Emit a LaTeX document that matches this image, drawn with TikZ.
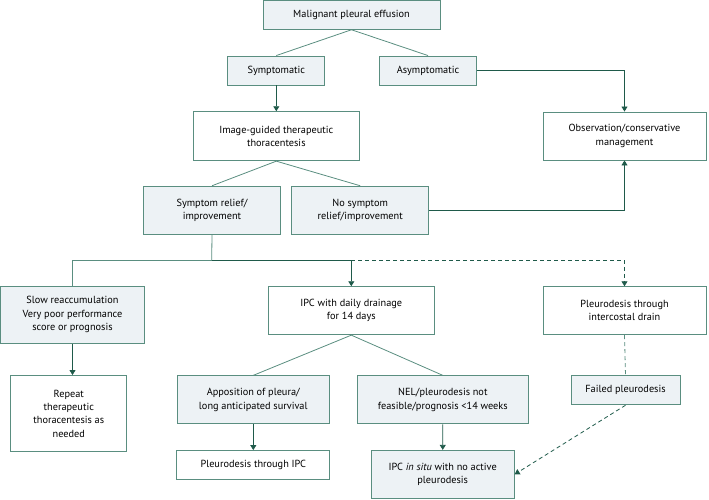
\documentclass[tikz,border=0pt]{standalone}
\usepackage{fontspec}
\setmainfont{PT Sans}
\usetikzlibrary{arrows.meta,positioning}
\definecolor{boxline}{HTML}{5A8E80}
\definecolor{arrline}{HTML}{1F5A4A}
\definecolor{boxfill}{HTML}{EDF2F5}

\begin{document}
\begin{tikzpicture}[x=1pt,y=-1pt,
            box/.style={rectangle, draw=boxline, line width=0.9pt, align=center, inner sep=0pt,
                        font=\fontsize{10.3}{13.3}\selectfont},
            shaded/.style={box, fill=boxfill},
            link/.style={draw=boxline, line width=0.8pt},
            arr/.style={draw=arrline, line width=0.8pt, -{Triangle[length=5pt,width=6pt]}},
            darr/.style={arr, dashed, dash pattern=on 4pt off 3pt}
        ]
        \useasboundingbox (0,0) rectangle (709,499);

        % top of the chart
        \node[shaded, minimum width=177pt, minimum height=29pt] (effusion) at (351.5,14.8) {Malignant pleural effusion};
        \node[shaded, minimum width=97pt, minimum height=29pt] (symptomatic) at (276.3,70.5) {Symptomatic};
        \node[shaded, minimum width=97pt, minimum height=29pt] (asymptomatic) at (428,70.5) {Asymptomatic};
        \node[box, minimum width=166pt, minimum height=49pt] (thoracentesis) at (276.3,136.2) {Image-guided therapeutic\\thoracentesis};
        \node[box, minimum width=163pt, minimum height=48pt] (observation) at (624.5,136) {Observation/conservative\\management};
        \node[shaded, minimum width=137pt, minimum height=48pt] (relief) at (212,210.2) {Symptom relief/\\improvement};
        \node[shaded, minimum width=137pt, minimum height=48pt] (norelief) at (360.2,210.2) {No symptom\\relief/improvement};

        % middle row
        \node[shaded, minimum width=144pt, minimum height=57pt] (slow) at (72.5,314.7) {Slow reaccumulation\\Very poor performance\\score or prognosis};
        \node[box, minimum width=166pt, minimum height=48pt] (ipc) at (351.3,310.7) {IPC with daily drainage\\for 14 days};
        \node[box, minimum width=163pt, minimum height=48pt] (drain) at (624.5,310.7) {Pleurodesis through\\intercostal drain};

        % bottom rows
        \node[box, minimum width=116pt, minimum height=76pt] (repeat) at (68.8,413.5) {Repeat\\therapeutic\\thoracentesis as\\needed};
        \node[shaded, minimum width=152pt, minimum height=48pt] (apposition) at (253.3,399.8) {Apposition of pleura/\\long anticipated survival};
        \node[shaded, minimum width=171pt, minimum height=48pt] (nel) at (442.8,399.8) {NEL/pleurodesis not\\feasible/prognosis <14 weeks};
        \node[shaded, minimum width=109pt, minimum height=29pt] (failed) at (625.5,390.3) {Failed pleurodesis};
        \node[box, minimum width=153pt, minimum height=29pt] (viaipc) at (253.3,465) {Pleurodesis through IPC};
        \node[shaded, minimum width=143pt, minimum height=48pt] (insitu) at (442.7,474.3) {IPC \textit{in situ} with no active\\pleurodesis};

        \coordinate (split) at (211.7,260);

        \draw[link] (effusion.south) -- (symptomatic.north);
        \draw[link] (effusion.south) -- (asymptomatic.north);
        \draw[arr] (symptomatic) -- (thoracentesis);
        \draw[arr] (asymptomatic.east) -| (observation.north);
        \draw[link] (thoracentesis.south) -- (relief.north);
        \draw[link] (thoracentesis.south) -- (norelief.north);
        \draw[arr] (norelief.east) -| (observation.south);

        \draw[link] (relief.south) -- (split);
        \draw[link] (split) -- (split -| slow.north) -- (slow.north);
        \draw[arr] (split) -| (ipc.north);
        \draw[darr] (split -| ipc.north) -| (drain.north);

        \draw[arr] (slow.south) -- (slow.south |- repeat.north);
        \draw[link] (ipc.south) -- (apposition.north);
        \draw[link] (ipc.south) -- (nel.north);
        \draw[arr] (apposition) -- (viaipc);
        \draw[arr] (nel) -- (insitu);
        \draw[link, dashed, dash pattern=on 4pt off 3pt] (drain.south) -- (failed.north);
        \draw[darr] (failed.south) -- (insitu.east);

    \end{tikzpicture}
\end{document}
